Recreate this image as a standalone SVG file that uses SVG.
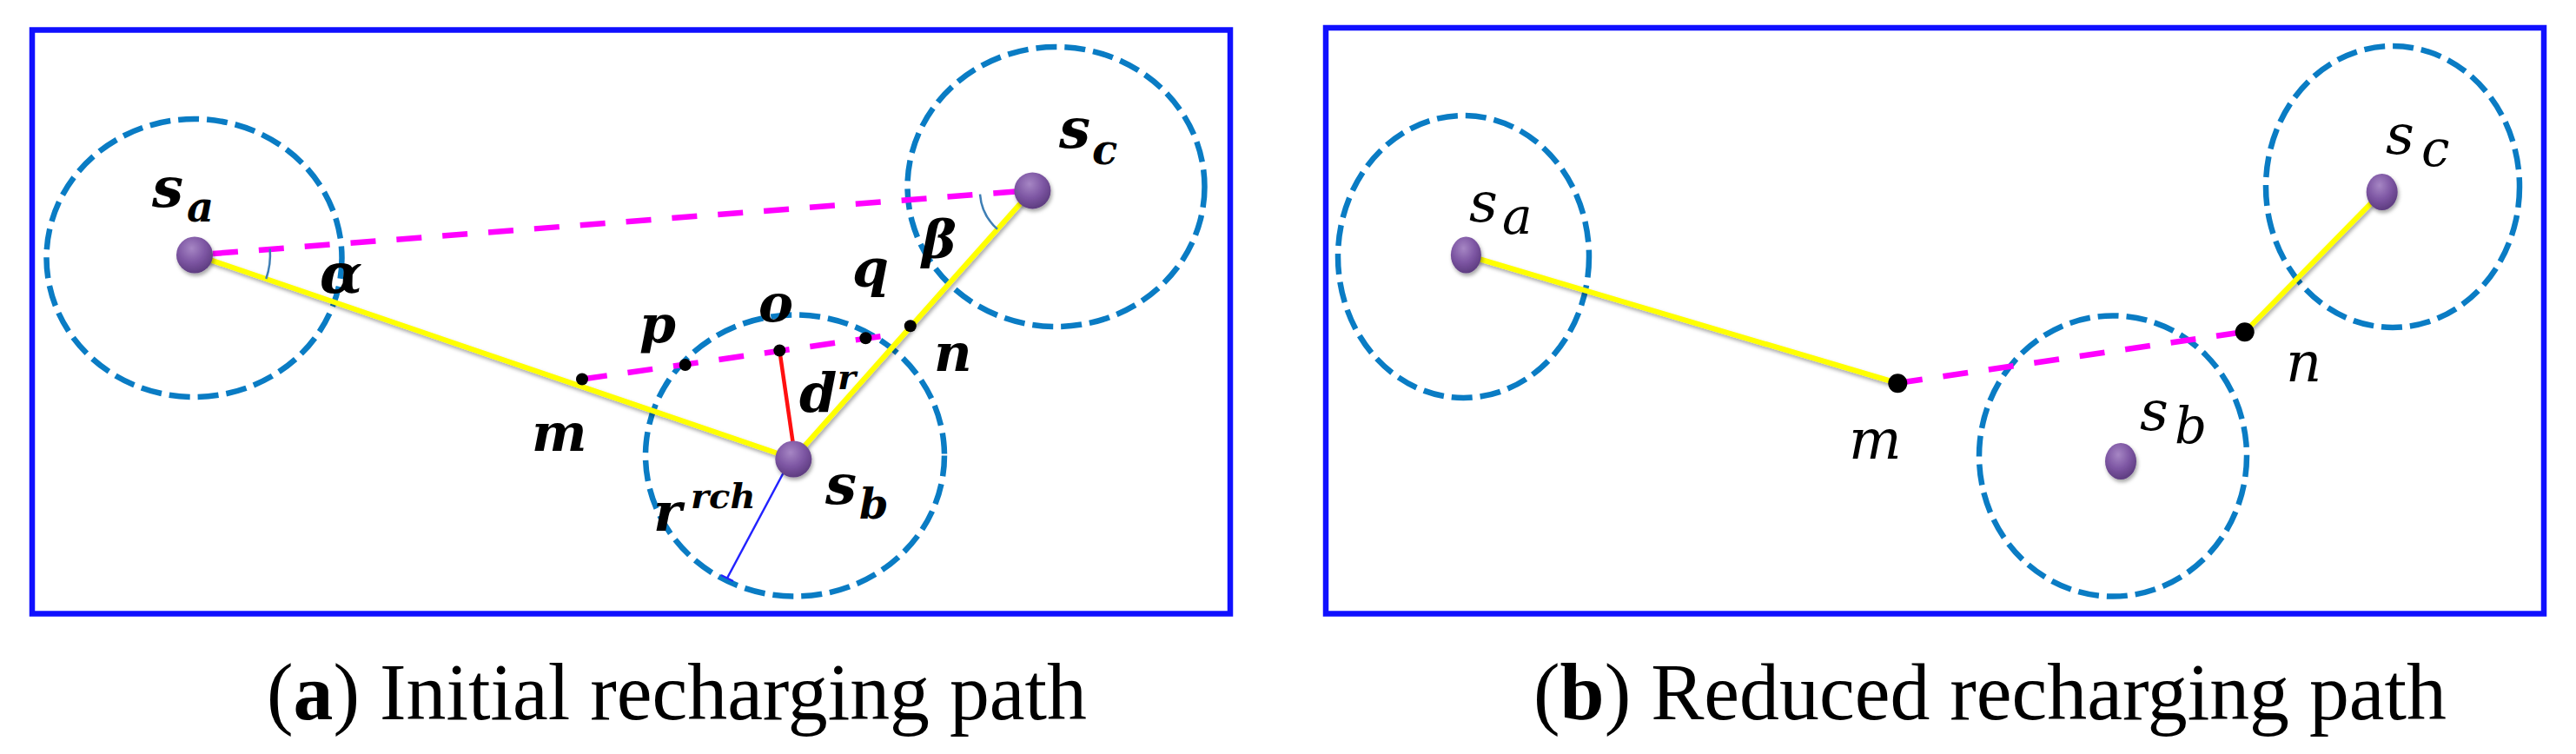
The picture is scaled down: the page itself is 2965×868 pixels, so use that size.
<svg xmlns="http://www.w3.org/2000/svg" width="2965" height="868" viewBox="0 0 2965 868">
<defs>
<radialGradient id="ball" cx="42%" cy="32%" r="70%">
<stop offset="0" stop-color="#a686c4"/>
<stop offset="0.55" stop-color="#7d56a3"/>
<stop offset="1" stop-color="#5c3b7e"/>
</radialGradient>
<filter id="sh" x="-50%" y="-50%" width="200%" height="200%">
<feDropShadow dx="1.5" dy="3" stdDeviation="2" flood-color="#000" flood-opacity="0.35"/>
</filter>
</defs>
<style>
.frame{fill:none;stroke:#1010ff;stroke-width:6.5}
.range{fill:none;stroke:#0a7cc4;stroke-width:6.5;stroke-dasharray:24 9}
.yel{stroke:#ffff00;stroke-width:6;stroke-linecap:round;filter:url(#sh)}
.mag{stroke:#ff00ff;stroke-width:6.5;stroke-dasharray:29 24;fill:none}
.ang{fill:none;stroke:#3f7fb5;stroke-width:2.5}
.ball{fill:url(#ball);filter:url(#sh)}
.pt{fill:#000}
.lb{font-family:"DejaVu Serif",serif;font-style:italic;font-weight:bold;fill:#000}
.lbn{font-family:"DejaVu Serif",serif;font-style:italic;fill:#000}
.cap{font-family:"Liberation Serif","Times New Roman",serif;font-size:94px;fill:#000}
</style>
<rect width="2965" height="868" fill="#fff"/>

<!-- Panel (a) -->
<g id="frame-a"><rect class="frame" x="37" y="34.5" width="1379" height="672"/></g>
<g id="range-a-sa"><ellipse class="range" cx="223.5" cy="297" rx="170" ry="160"/></g>
<g id="range-a-sb"><ellipse class="range" cx="915" cy="524.5" rx="172" ry="162"/></g>
<g id="range-a-sc"><ellipse class="range" cx="1215.5" cy="215" rx="171" ry="161"/></g>

<g id="connectors-a">
<line class="mag" x1="245" y1="292" x2="1188" y2="219"/>
<line class="mag" x1="670" y1="436.5" x2="1026" y2="385.5"/>
<line class="yel" x1="224" y1="293" x2="913" y2="528"/>
<line class="yel" x1="913" y1="528" x2="1188" y2="219"/>
<line x1="897.3" y1="403.5" x2="913.3" y2="514" stroke="#ff1010" stroke-width="4.5"/>
<line x1="904" y1="540" x2="837" y2="665.5" stroke="#2222ff" stroke-width="2.5"/>
<line x1="830" y1="662" x2="844" y2="669" stroke="#2222ff" stroke-width="2"/>
<path class="ang" d="M310.7 286.3 A87 87 0 0 1 306.3 321"/>
<path class="ang" d="M1128 223.6 A60 60 0 0 0 1148 263.8"/>
</g>

<g id="node-a-sa"><circle class="ball" cx="224" cy="293.5" r="21"/>
<text class="lb" x="175" y="238" font-size="64">s</text><text class="lb" x="215" y="255" font-size="48">a</text></g>
<g id="node-a-sb"><circle class="ball" cx="913.3" cy="528.5" r="21"/>
<text class="lb" x="950" y="580" font-size="64">s</text><text class="lb" x="989" y="597" font-size="48">b</text></g>
<g id="node-a-sc"><circle class="ball" cx="1188.4" cy="219.4" r="21"/>
<text class="lb" x="1219" y="170" font-size="64">s</text><text class="lb" x="1257" y="189" font-size="48">c</text></g>
<g id="node-a-m"><circle class="pt" cx="670" cy="436.5" r="7"/><text class="lb" x="612" y="519" font-size="60">m</text></g>
<g id="node-a-p"><circle class="pt" cx="788.7" cy="420" r="7"/><text class="lb" x="736" y="394" font-size="60">p</text></g>
<g id="node-a-o"><circle class="pt" cx="897.3" cy="403.5" r="7"/><text class="lb" x="873" y="370" font-size="60">o</text></g>
<g id="node-a-q"><circle class="pt" cx="996.4" cy="389.3" r="7"/><text class="lb" x="981" y="330" font-size="60">q</text></g>
<g id="node-a-n"><circle class="pt" cx="1047.8" cy="375.2" r="7"/><text class="lb" x="1075" y="427" font-size="60">n</text></g>
<g id="label-alpha"><text class="lb" x="368" y="337" font-size="64">α</text></g>
<g id="label-beta"><text class="lb" x="1061" y="297" font-size="60">β</text></g>
<g id="label-dr"><text class="lb" x="920" y="474" font-size="62">d</text><text class="lb" x="964" y="448" font-size="40">r</text></g>
<g id="label-rrch"><text class="lb" x="752" y="611" font-size="62">r</text><text class="lb" x="795" y="585" font-size="40">rch</text></g>

<!-- Panel (b) -->
<g id="frame-b"><rect class="frame" x="1526" y="32" width="1402" height="674.5"/></g>
<g id="range-b-sa"><ellipse class="range" cx="1684.5" cy="295.5" rx="144.5" ry="162.5"/></g>
<g id="range-b-sb"><ellipse class="range" cx="2432" cy="525" rx="154" ry="161.6"/></g>
<g id="range-b-sc"><ellipse class="range" cx="2754" cy="215" rx="146" ry="162"/></g>

<g id="connectors-b">
<line class="mag" x1="2184" y1="441" x2="2583" y2="382"/>
<line class="yel" x1="1687" y1="293.5" x2="2184" y2="441"/>
<line class="yel" x1="2584" y1="382" x2="2741.7" y2="221"/>
</g>

<g id="node-b-sa"><ellipse class="ball" cx="1687.4" cy="293.5" rx="17.5" ry="21"/>
<text class="lbn" x="1691" y="255" font-size="64">s</text><text class="lbn" x="1729" y="269" font-size="58">a</text></g>
<g id="node-b-sb"><ellipse class="ball" cx="2441" cy="531" rx="18" ry="21"/>
<text class="lbn" x="2463" y="495" font-size="64">s</text><text class="lbn" x="2503" y="510" font-size="58">b</text></g>
<g id="node-b-sc"><ellipse class="ball" cx="2741.7" cy="221" rx="18" ry="21"/>
<text class="lbn" x="2746" y="177" font-size="64">s</text><text class="lbn" x="2787" y="191" font-size="58">c</text></g>
<g id="node-b-m"><circle class="pt" cx="2184.3" cy="441.2" r="11"/><text class="lbn" x="2128" y="528" font-size="64">m</text></g>
<g id="node-b-n"><circle class="pt" cx="2583.7" cy="382.3" r="11"/><text class="lbn" x="2631" y="439" font-size="64">n</text></g>

<!-- Captions -->
<text class="cap" x="307" y="828" textLength="944" lengthAdjust="spacingAndGlyphs">(<tspan font-weight="bold">a</tspan>) Initial recharging path</text>
<text class="cap" x="1765" y="828" textLength="1051" lengthAdjust="spacingAndGlyphs">(<tspan font-weight="bold">b</tspan>) Reduced recharging path</text>
</svg>
